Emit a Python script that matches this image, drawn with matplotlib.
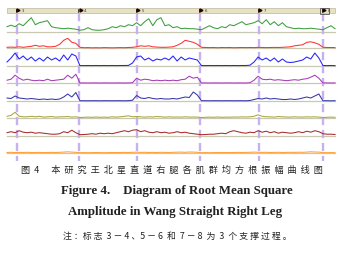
import numpy as np
import matplotlib
matplotlib.use("Agg")
import matplotlib.pyplot as plt
from matplotlib.patches import Rectangle

# RMS amplitude per channel (arbitrary units, one sample per ~4 px of trace)
green = [5, 6.5, 5, 8, 6, 10, 14, 7, 9, 10,
         11, 5, 4, 3.5, 3, 3.5, 3, 2.5, 1.5, 2,
         4, 2, 1.5, 1.5, 2, 3, 5, 4, 6, 5,
         7, 6, 9, 6, 10, 13, 6, 12, 14, 6,
         7, 4, 5, 3, 3.5, 3, 3, 2.5, 2, 4,
         6, 4, 3, 5, 4, 7, 6, 8, 10, 7,
         8, 9, 11, 8, 12, 7, 10, 6, 9, 5,
         4, 3, 3.5, 3, 3, 3.5, 3, 2.5, 2, 4,
         6, 3]
red = [1, 1.2, 1, 1.5, 1, 1.5, 2, 3, 2, 2.5,
       1.5, 1.5, 2, 4, 8, 10, 6, 5, 1, 0.6,
       0.7, 0.5, 0.6, 0.5, 0.7, 0.6, 0.5, 0.6, 0.7, 0.6,
       0.8, 1, 1.5, 2.5, 2, 2.5, 1.5, 1.2, 1, 1,
       1.2, 1.5, 3, 5, 8, 7, 6, 4, 1, 0.8,
       0.7, 0.8, 0.6, 0.8, 0.7, 0.8, 0.6, 0.7, 0.8, 0.7,
       0.8, 0.7, 0.9, 0.8, 0.7, 0.8, 0.9, 0.8, 1, 1.2,
       1.5, 2.5, 3, 3.5, 6, 6.5, 5.5, 4, 1, 0.8,
       0.8, 0.7]
blue = [4, 8, 13, 7, 10, 6, 9, 5, 8, 5,
        9, 6, 8, 5, 11, 6, 12, 10, 0.5, 0.4,
        0.5, 0.4, 0.5, 0.4, 0.5, 0.4, 0.5, 0.4, 0.5, 0.5,
        0.6, 3, 9, 10, 6, 8, 5, 7, 6, 8,
        6, 10, 5, 9, 6, 8, 7, 6, 0.5, 0.4,
        0.5, 0.4, 0.5, 0.4, 0.5, 0.4, 0.5, 0.4, 0.5, 0.5,
        0.8, 4, 9, 6, 8, 5, 8, 4, 7, 4,
        3.5, 4, 5, 6, 9, 7, 13, 8, 0.5, 0.4,
        0.5, 0.4]
purple = [3, 4, 8, 5, 3, 4, 3, 2.5, 3, 2.5,
          4, 2.5, 3, 3.5, 4, 8, 5, 9, 0.3, 0.3,
          0.2, 0.3, 0.3, 0.2, 0.3, 0.3, 0.2, 0.3, 0.3, 0.2,
          0.3, 0.5, 5, 3, 4, 3.5, 2.5, 3, 2.5, 3,
          2.5, 3, 2.5, 3.5, 4, 7, 5, 6, 0.3, 0.3,
          0.2, 0.3, 0.3, 0.2, 0.3, 0.3, 0.2, 0.3, 0.3, 0.2,
          0.5, 3, 7, 4, 3.5, 4, 3, 3.5, 3, 2.5,
          3, 3.5, 3, 4, 4.5, 6, 8, 5, 0.3, 0.3,
          0.2, 0.3]
navy = [3, 2.5, 5, 3, 2.5, 2, 2.5, 2, 1.5, 2,
        1.5, 2, 1.5, 2, 4, 7, 4, 8.5, 0.3, 0.3,
        0.2, 0.3, 0.3, 0.2, 0.3, 0.3, 0.2, 0.3, 0.3, 0.2,
        0.3, 0.8, 5.5, 3, 2.5, 3.5, 2.5, 2, 2.5, 2,
        2, 2.5, 2, 3, 4, 3.5, 9, 6, 0.3, 0.3,
        0.2, 0.3, 0.3, 0.2, 0.3, 0.3, 0.2, 0.3, 0.3, 0.2,
        0.5, 1.5, 2.5, 2, 3, 2, 2.5, 2, 1.5, 1.5,
        2, 1.5, 2, 3, 4, 3, 5, 7, 0.3, 0.3,
        0.2, 0.3]
olive = [2, 3, 6, 2, 1.5, 1.5, 2, 1.5, 2, 1.2,
         1.5, 1.8, 1.2, 1.5, 1.5, 1.8, 1.2, 1.5, 0.8, 1,
         1.2, 1, 1.3, 1, 1.2, 1, 1.5, 1.2, 1.5, 2,
         2.5, 1.5, 1.8, 1.5, 1.2, 1.5, 1.3, 1.8, 1.5, 1.2,
         1.5, 1.2, 1.3, 1.2, 1.5, 1.2, 1.3, 1.2, 0.8, 1,
         1.2, 1, 1.3, 1, 1.2, 1.1, 1.3, 1.2, 1.5, 1.3,
         1.5, 2, 3.5, 2, 1.5, 1.5, 1.2, 1.8, 1.5, 1.3,
         1.2, 1.5, 1.3, 1.2, 1.5, 1.3, 1.5, 1.2, 0.8, 1,
         1.2, 1]
darkred = [3, 4, 3, 5, 3.5, 3, 3.5, 2.5, 3, 2.5,
           2, 1.5, 1.5, 2, 4, 3, 5.5, 3, 1, 1.2,
           1.5, 2, 1.5, 2.5, 2, 2.5, 2, 3, 4, 5,
           4, 5.5, 6, 4, 5, 3.5, 3, 4, 3, 3.5,
           2.5, 3, 4, 3, 3.5, 2.5, 2, 1.5, 1, 1.2,
           1.5, 1.5, 2, 2.5, 2, 4, 5, 4, 3, 2.5,
           3.5, 3, 5, 3.5, 4.5, 3, 4, 2.5, 3.5, 3,
           2.5, 3, 4, 3, 4.5, 3.5, 5, 4, 2, 1.5,
           1.5, 1.2]
orange = [0.8, 1, 0.7, 0.9, 0.8, 1, 0.7, 0.8, 0.9, 0.7,
          0.8, 0.9, 0.8, 1, 1.2, 1.5, 1.2, 1, 0.6, 0.7,
          0.6, 0.7, 0.8, 0.7, 0.6, 0.7, 0.8, 0.7, 0.8, 0.9,
          0.8, 1, 1.1, 0.9, 1, 0.8, 0.9, 0.8, 1, 0.9,
          0.8, 1, 1.1, 1.2, 1, 1.3, 1.2, 1, 0.6, 0.7,
          0.6, 0.7, 0.8, 0.7, 0.8, 0.7, 0.8, 0.9, 0.8, 0.9,
          1, 1.2, 1, 0.9, 1, 0.8, 0.9, 1, 0.8, 0.9,
          1, 0.9, 1.1, 1, 1.2, 1.5, 1.3, 1.2, 0.7, 0.6,
          0.7, 0.6]

traces = [green, red, blue, purple, navy, olive, darkred, orange]
colors = ["#3d9e3d", "#ff3030", "#2222ff", "#a838b8",
          "#3636a8", "#a8a840", "#a82a2a", "#ffa034"]

# event markers (sample positions) and their labels
marker_pos = [2.47, 17.8, 32.1, 47.65, 62.2, 78.0]
marker_labels = ["3", "4", "5", "6", "7", "8"]

caption_cn = "图  4      本  研  究  王  北  星  直  道  右  腿  各  肌  群  均  方  根  振  幅  曲  线  图"
caption_en1 = "Figure 4.    Diagram of Root Mean Square"
caption_en2 = "Amplitude in Wang Straight Right Leg"
note_cn = "注 ：标 志  3 － 4 、5 － 6  和  7 － 8  为  3  个 支 撑 过 程 。"

W, H = 343, 254
fig = plt.figure(figsize=(W / 100, H / 100), dpi=100)
ax = fig.add_axes([0, 0, 1, 1])
step = 4.05
x0 = 7
ax.set_xlim(-x0 / step, (W - x0) / step)
ax.set_ylim(H, 0)
ax.axis("off")

n = len(green)
t = np.arange(n)
x_end = (335 - x0) / step
baselines = [31.7, 48.3, 66.0, 83.2, 101.0, 118.3, 135.7, 153.3]

for vals, c, b in zip(traces, colors, baselines):
    ax.plot([0, x_end], [b, b], color="#c8c8b0", lw=0.9, zorder=1)
    ax.plot(t, b - np.asarray(vals), color=c, lw=0.75, zorder=3)

# marker lines
for m in marker_pos:
    ax.plot([m, m], [13, 161], color="#c8b2ee", lw=1.7,
            linestyle=(0, (3.5, 2)), zorder=2)

# header bar with flags
ax.add_patch(Rectangle((0, 8), x_end, 5, facecolor="#e6e2c6",
                       edgecolor="#bdb99c", lw=0.5, zorder=4))
for m, lab in zip(marker_pos, marker_labels):
    ax.plot([m - 0.15, m - 0.15], [9, 12.3], color="black", lw=0.5, zorder=5)
    ax.plot(m + 0.35, 10.0, marker=">", color="#220000", ms=2.2, zorder=5)
    ax.text(m + 1.2, 10.6, lab, fontsize=2.8, color="#333333",
            va="center", ha="left", zorder=5)
ax.add_patch(Rectangle((marker_pos[-1] - 0.8, 7.5), 2.3, 6,
                       facecolor="none", edgecolor="#555555", lw=0.6, zorder=6))

cjk = ["Noto Sans CJK SC", "DejaVu Sans"]
fig.text(172 / W, 1 - 170 / H, caption_cn, family=cjk, fontsize=6.6,
         ha="center", va="center", color="#222222")
fig.text(177 / W, 1 - 191 / H, caption_en1, family="Liberation Serif",
         fontweight="bold", fontsize=9.3, ha="center", va="center", color="#222222")
fig.text(175 / W, 1 - 212 / H, caption_en2, family="Liberation Serif",
         fontweight="bold", fontsize=9.3, ha="center", va="center", color="#222222")
fig.text(177 / W, 1 - 236 / H, note_cn, family=cjk, fontsize=6.4,
         ha="center", va="center", color="#222222")

fig.savefig("out.png", dpi=100, facecolor="white")
